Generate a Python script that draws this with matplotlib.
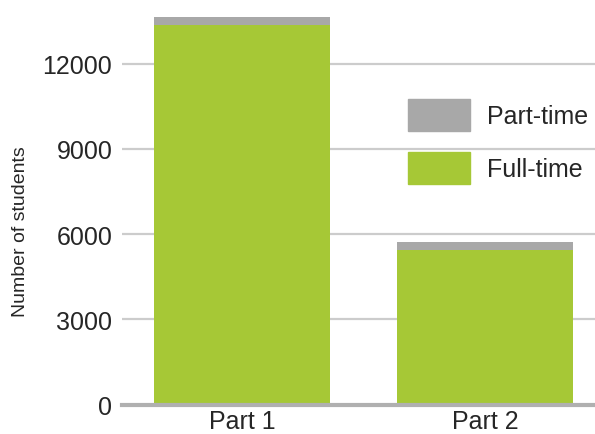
import matplotlib
matplotlib.use("Agg")
import matplotlib.pyplot as plt
from matplotlib.patches import Patch

plt.rcParams['font.family'] = ['Liberation Sans', 'DejaVu Sans']

categories = ["Part 1", "Part 2"]
full_time = [13360, 5440]
part_time = [290, 290]
yticks = [0, 3000, 6000, 9000, 12000]

green = "#a6c836"
gray = "#a8a8a8"
text_color = "#262626"

fig = plt.figure(figsize=(5.95, 4.35), dpi=100)
W, H = 595, 435
ax = fig.add_axes([122 / W, 1 - 405.5 / H, (595 - 122) / W, (405.5 - 8) / H])

x = list(range(len(categories)))
ax.bar(x, full_time, width=0.724, color=green, zorder=2, label="Full-time")
ax.bar(x, part_time, bottom=full_time, width=0.724, color=gray, zorder=2, label="Part-time")

ax.set_xlim(-0.494, 1.453)
y_per_px = 3000 / 85.2
ax.set_ylim(0, (405.5 - 8) * y_per_px)
ax.set_yticks(yticks)
ax.set_yticklabels([str(v) for v in yticks])
ax.set_xticks(x)
ax.set_xticklabels(categories)
ax.grid(axis='y', color='#cccccc', linewidth=1.6, zorder=0)
ax.set_axisbelow(True)
for s in ['top', 'right', 'left']:
    ax.spines[s].set_visible(False)
ax.spines['bottom'].set_color('#b0b0b0')
ax.spines['bottom'].set_linewidth(3)
ax.spines['bottom'].set_zorder(3)
ax.tick_params(axis='both', length=0, labelsize=18, labelcolor=text_color)
ax.tick_params(axis='y', pad=7)
ax.tick_params(axis='x', pad=3.5)
ax.set_ylabel("Number of students", fontsize=14, color=text_color)
ax.yaxis.set_label_coords((29 - 122) / 473, (405.5 - 232) / 397.5)

handles = [Patch(color=gray, label="Part-time"), Patch(color=green, label="Full-time")]
leg = fig.legend(handles=handles, loc='upper left', bbox_to_anchor=(408 / W, 1 - 100 / H),
                 frameon=False, fontsize=18, handlelength=2.48, handleheight=1.6,
                 labelspacing=0.84, handletextpad=0.68, borderpad=0, borderaxespad=0)
for t in leg.get_texts():
    t.set_color(text_color)

fig.savefig("out.png", dpi=100)
